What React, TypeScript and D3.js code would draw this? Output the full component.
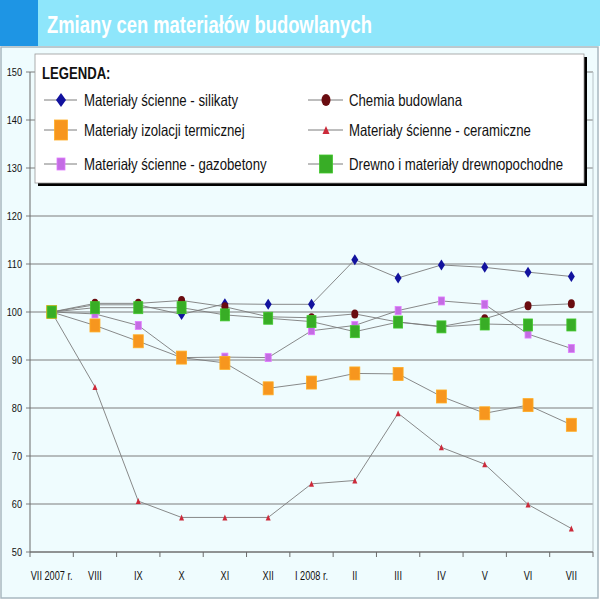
import React from "react";
import * as d3 from "d3";

const categories = ["VII 2007 r.", "VIII", "IX", "X", "XI", "XII", "I 2008 r.", "II", "III", "IV", "V", "VI", "VII"];
const yTicks = [50, 60, 70, 80, 90, 100, 110, 120, 130, 140, 150];

const silikaty = [100, 101.5, 101.5, 99.5, 101.7, 101.6, 101.6, 110.9, 107.1, 109.8, 109.3, 108.3, 107.4];
const chemia = [100, 101.8, 101.8, 102.4, 101.1, 99.0, 98.8, 99.6, 97.9, 97.0, 98.6, 101.3, 101.7];
const izolacji = [100, 97.2, 93.9, 90.5, 89.4, 84.1, 85.3, 87.2, 87.1, 82.4, 78.9, 80.6, 76.5];
const ceramiczne = [100, 84.4, 60.6, 57.2, 57.2, 57.2, 64.2, 64.9, 78.9, 71.8, 68.3, 59.9, 54.9];
const gazobetony = [100, 99.6, 97.2, 90.5, 90.6, 90.5, 96.1, 97.2, 100.3, 102.3, 101.6, 95.4, 92.4];
const drewno = [100, 100.9, 100.9, 100.9, 99.4, 98.7, 98.0, 95.9, 97.9, 96.9, 97.5, 97.3, 97.3];

type Shape = "diamond" | "square" | "circle" | "triangle";
interface Series {
  name: string;
  values: number[];
  color: string;
  shape: Shape;
  w: number;
  h: number;
  lw: number;
  lh: number;
}

const S_SIL: Series = { name: "Materiały ścienne - silikaty", values: silikaty, color: "#12129e", shape: "diamond", w: 7, h: 11, lw: 10, lh: 14 };
const S_CHE: Series = { name: "Chemia budowlana", values: chemia, color: "#6a0c10", shape: "circle", w: 7, h: 9, lw: 9, lh: 12 };
const S_IZO: Series = { name: "Materiały izolacji termicznej", values: izolacji, color: "#f7961e", shape: "square", w: 10, h: 13, lw: 13, lh: 20 };
const S_CER: Series = { name: "Materiały ścienne - ceramiczne", values: ceramiczne, color: "#cc2a3a", shape: "triangle", w: 5, h: 6, lw: 7, lh: 8 };
const S_GAZ: Series = { name: "Materiały ścienne - gazobetony", values: gazobetony, color: "#c46ce4", shape: "square", w: 6, h: 8, lw: 8, lh: 12 };
const S_DRE: Series = { name: "Drewno i materiały drewnopochodne", values: drewno, color: "#38ad26", shape: "square", w: 9, h: 12, lw: 13, lh: 18 };

const drawOrder = [S_SIL, S_CHE, S_GAZ, S_IZO, S_CER, S_DRE];
const legendCol1 = [S_SIL, S_IZO, S_GAZ];
const legendCol2 = [S_CHE, S_CER, S_DRE];

const FONT = "'Liberation Sans', Arial, Helvetica, sans-serif";
const LINE = "#7c7c7c";

function Marker({ s, x, y, w, h }: { s: Series; x: number; y: number; w: number; h: number }) {
  const t = `translate(${x},${y})`;
  if (s.shape === "diamond") {
    return <path transform={t} d={`M0,${-h / 2}L${w / 2},0L0,${h / 2}L${-w / 2},0Z`} fill={s.color} />;
  }
  if (s.shape === "circle") {
    return <ellipse transform={t} rx={w / 2} ry={h / 2} fill={s.color} />;
  }
  if (s.shape === "triangle") {
    return <path transform={t} d={`M0,${-h / 2}L${w / 2},${h / 2}L${-w / 2},${h / 2}Z`} fill={s.color} />;
  }
  return <rect transform={t} x={-w / 2} y={-h / 2} width={w} height={h} fill={s.color} stroke={d3.color(s.color)!.brighter(0.4).toString()} strokeWidth={0.8} />;
}

function CText({ x, y, children, size, anchor = "start", weight = "normal", fill = "#111", sx = 0.8 }: any) {
  return (
    <text
      transform={`translate(${x},${y}) scale(${sx},1)`}
      fontFamily={FONT}
      fontSize={size}
      fontWeight={weight}
      textAnchor={anchor}
      fill={fill}
    >
      {children}
    </text>
  );
}

export default function App() {
  const left = 30;
  const right = 593;
  const top = 72;
  const bottom = 552;
  const x = d3.scaleBand<string>().domain(categories).range([left, right]);
  const y = d3.scaleLinear().domain([50, 150]).range([bottom, top]);
  const cx = (c: string) => (x(c) as number) + x.bandwidth() / 2;
  const line = d3
    .line<number>()
    .x((_, i) => cx(categories[i]))
    .y((v) => y(v));

  const boundaries = categories.map((c) => x(c) as number).concat([right]);

  // legend
  const lgX = 35, lgY = 54, lgW = 549, lgH = 129;
  const rows = [100, 130, 164];
  const cols = [{ l0: 44, l1: 77, m: 61, t: 84 }, { l0: 308, l1: 343, m: 326, t: 349 }];

  return (
    <svg width={600} height={600} style={{ position: "absolute", left: 0, top: 0 }} xmlns="http://www.w3.org/2000/svg">
      <rect x={0} y={0} width={600} height={600} fill="#ffffff" />
      <rect x={1} y={47} width={597} height={551} fill="#effcfe" stroke="#a8b8c0" strokeWidth={1.5} />
      <rect x={0} y={0} width={600} height={46} fill="#8ee6fb" />
      <rect x={0} y={0} width={38} height={46} fill="#1e95e4" />
      <CText x={47} y={33} size={23} weight="bold" fill="#ffffff" sx={0.8}>
        Zmiany cen materiałów budowlanych
      </CText>

      {/* gridlines */}
      {yTicks.map((t) => (
        <g key={t}>
          <line x1={left - 4} x2={right} y1={y(t)} y2={y(t)} stroke={LINE} strokeWidth={1} />
          <CText x={22} y={y(t) + 4} size={11.5} anchor="end" sx={0.8}>
            {t}
          </CText>
        </g>
      ))}
      <line x1={left} x2={left} y1={top} y2={bottom} stroke="#6a6a6a" strokeWidth={1} />
      <line x1={right} x2={right} y1={top} y2={bottom} stroke="#b8c4c8" strokeWidth={1} />
      <line x1={left} x2={right} y1={bottom} y2={bottom} stroke="#6a6a6a" strokeWidth={1} />
      {boundaries.map((b, i) => (
        <line key={i} x1={b} x2={b} y1={bottom} y2={bottom + 5} stroke="#6a6a6a" strokeWidth={1} />
      ))}
      {categories.map((c) => (
        <CText key={c} x={cx(c)} y={580} size={13.5} anchor="middle" sx={0.68}>
          {c}
        </CText>
      ))}

      {/* series lines */}
      {drawOrder.map((s) => (
        <path key={s.name + "l"} d={line(s.values) || ""} fill="none" stroke={LINE} strokeWidth={0.9} />
      ))}
      {drawOrder.map((s) => (
        <g key={s.name + "m"}>
          {s.values.map((v, i) => (
            <Marker key={i} s={s} x={cx(categories[i])} y={y(v)} w={s.w} h={s.h} />
          ))}
        </g>
      ))}

      {/* legend */}
      <rect x={lgX + 3} y={lgY + 3} width={lgW} height={lgH} fill="#000" />
      <rect x={lgX} y={lgY} width={lgW} height={lgH} fill="#ffffff" stroke="#9a9a9a" strokeWidth={0.8} />
      <CText x={42} y={79} size={16} weight="bold" sx={0.82}>
        LEGENDA:
      </CText>
      {[legendCol1, legendCol2].map((col, ci) =>
        col.map((s, ri) => (
          <g key={s.name}>
            <line x1={cols[ci].l0} x2={cols[ci].l1} y1={rows[ri]} y2={rows[ri]} stroke={LINE} strokeWidth={1} />
            <Marker s={s} x={cols[ci].m} y={rows[ri]} w={s.lw} h={s.lh} />
            <CText x={cols[ci].t} y={rows[ri] + 6} size={16.5} sx={0.8}>
              {s.name}
            </CText>
          </g>
        ))
      )}
    </svg>
  );
}
